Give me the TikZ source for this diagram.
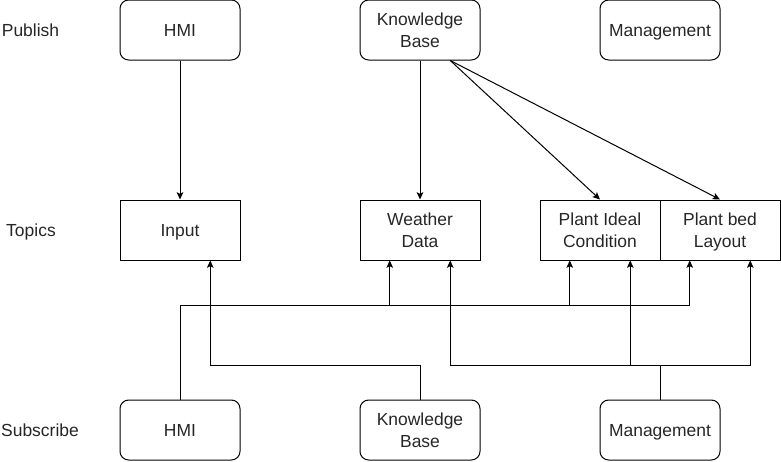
\documentclass[tikz,border=0pt]{standalone}
\usepackage{fontspec}
\setmainfont{Liberation Sans}
\usetikzlibrary{arrows.meta,calc}
\begin{document}
\begin{tikzpicture}[x=0.75pt,y=-0.75pt,
  every node/.style={font=\fontsize{13.1}{16.2}\selectfont, text=black!85, align=center, text depth=0pt},
  rbox/.style={draw, line width=0.75pt, rounded corners=6.5pt, minimum width=90pt, minimum height=45pt, inner sep=0pt},
  tbox/.style={draw, line width=0.75pt, minimum width=90pt, minimum height=45pt, inner sep=0pt},
  lbl/.style={inner sep=0pt},
  conn/.style={line width=0.75pt},
  arr/.style={conn, -{Stealth[length=5.5pt,width=5pt,inset=1.2pt]}}]
\useasboundingbox (0,0) rectangle (781,461);
% row labels
\node[lbl] (lp) at (30.5,30) {Publish};
\node[lbl] (lt) at (31,230) {Topics};
\node[lbl] (ls) at (40,430) {Subscribe};
% publish
\node[rbox] (hmi1) at (180,30) {HMI};
\node[rbox] (kb1) at (420,30) {Knowledge\\Base};
\node[rbox] (mg1) at (660,30) {Management};
% topics
\node[tbox] (in) at (180,230) {Input};
\node[tbox] (wd) at (420,230) {Weather\\Data};
\node[tbox] (pic) at (600,230) {Plant Ideal\\Condition};
\node[tbox] (pbl) at (720,230) {Plant bed\\Layout};
% subscribe
\node[rbox] (hmi2) at (180,430) {HMI};
\node[rbox] (kb2) at (420,430) {Knowledge\\Base};
\node[rbox] (mg2) at (660,430) {Management};
% publish arrows
\coordinate (kbo) at ($(kb1.south west)!0.75!(kb1.south east)$);
\draw[arr] (hmi1) -- (in);
\draw[arr] (kb1) -- (wd);
\draw[arr] (kbo) -- (pic.north);
\draw[arr] (kbo) -- (pbl.north);
% attach points
\coordinate (in1) at ($(in.south west)!0.75!(in.south east)$);
\coordinate (wd1) at ($(wd.south west)!0.25!(wd.south east)$);
\coordinate (wd2) at ($(wd.south west)!0.75!(wd.south east)$);
\coordinate (pic1) at ($(pic.south west)!0.25!(pic.south east)$);
\coordinate (pic2) at ($(pic.south west)!0.75!(pic.south east)$);
\coordinate (pbl1) at ($(pbl.south west)!0.25!(pbl.south east)$);
\coordinate (pbl2) at ($(pbl.south west)!0.75!(pbl.south east)$);
\coordinate (y1) at (0,305);
\coordinate (y2) at (0,365);
% HMI subscribe
\draw[arr] (hmi2.north) |- (y1 -| pbl1) -- (pbl1);
\draw[arr] (y1 -| wd1) -- (wd1);
\draw[arr] (y1 -| pic1) -- (pic1);
% KB subscribe
\draw[arr] (kb2.north) |- (y2 -| in1) -- (in1);
% Management subscribe
\draw[arr] (mg2.north) |- (y2 -| pbl2) -- (pbl2);
\draw[arr] (mg2.north) |- (y2 -| wd2) -- (wd2);
\draw[arr] (y2 -| pic2) -- (pic2);
\end{tikzpicture}
\end{document}
